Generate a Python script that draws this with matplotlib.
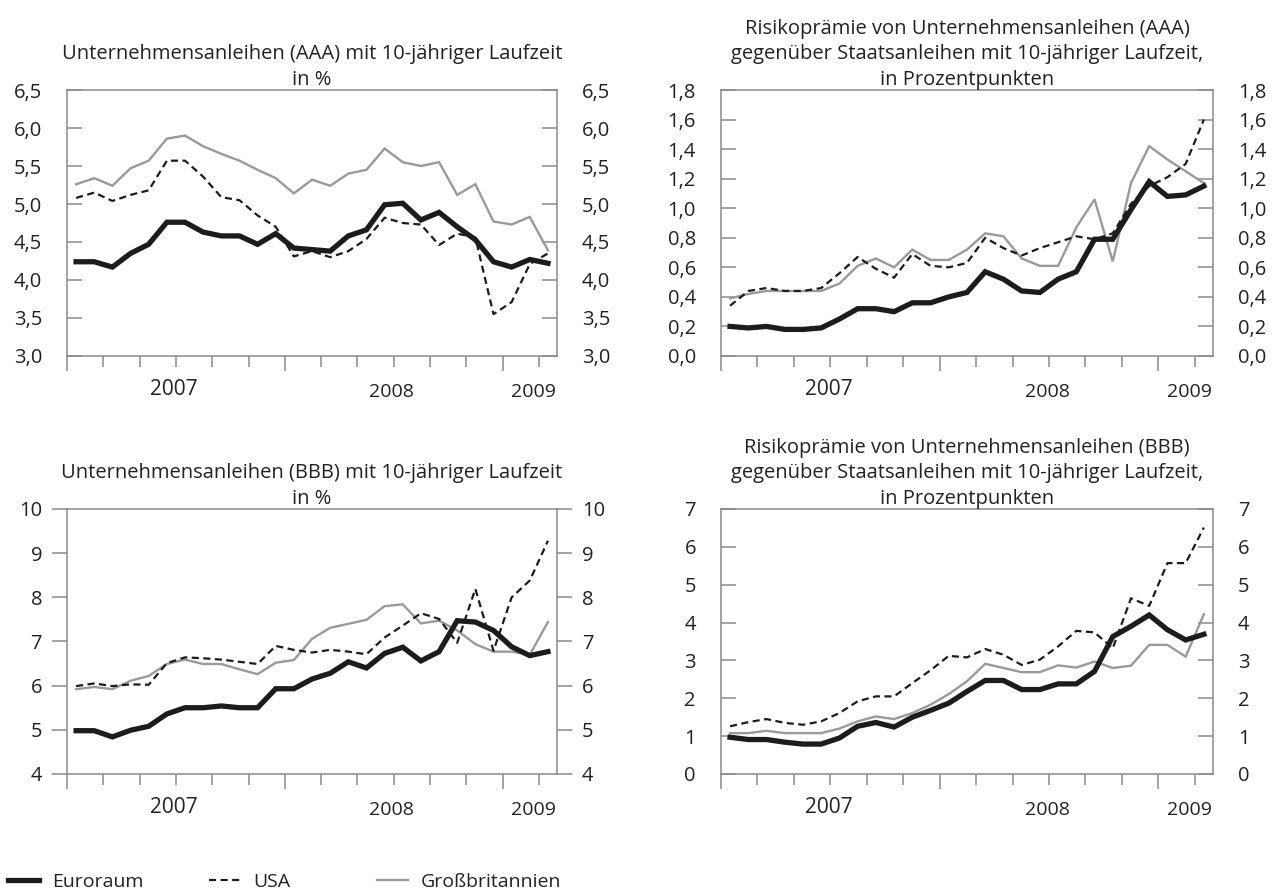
import matplotlib
matplotlib.use("Agg")
import matplotlib.pyplot as plt
from matplotlib.lines import Line2D
from matplotlib.ticker import FixedLocator, FuncFormatter
import numpy as np

plt.rcParams["font.family"] = ["Open Sans", "DejaVu Sans"]

# Monatswerte, 27 Punkte je Reihe
monate = np.arange(27)

# Unternehmensanleihen (AAA), Rendite in %
aaa_euro = [4.24, 4.24, 4.17, 4.35, 4.47, 4.76, 4.76, 4.63, 4.58, 4.58, 4.47, 4.61, 4.42, 4.40,
            4.38, 4.58, 4.66, 4.99, 5.01, 4.79, 4.89, 4.70, 4.53, 4.24, 4.17, 4.27, 4.22]
aaa_usa = [5.08, 5.15, 5.04, 5.12, 5.18, 5.57, 5.57, 5.36, 5.09, 5.05, 4.85, 4.70, 4.31, 4.38,
           4.30, 4.38, 4.54, 4.82, 4.75, 4.73, 4.46, 4.61, 4.56, 3.55, 3.71, 4.21, 4.35]
aaa_uk = [5.26, 5.34, 5.24, 5.47, 5.57, 5.86, 5.90, 5.76, 5.66, 5.57, 5.45, 5.34, 5.14, 5.32,
          5.24, 5.40, 5.45, 5.73, 5.55, 5.50, 5.55, 5.12, 5.26, 4.77, 4.73, 4.83, 4.39]

# Risikoprämie AAA, Prozentpunkte
aaa_praemie_euro = [0.20, 0.19, 0.20, 0.18, 0.18, 0.19, 0.25, 0.32, 0.32, 0.30, 0.36, 0.36, 0.40, 0.43,
                    0.57, 0.52, 0.44, 0.43, 0.52, 0.57, 0.79, 0.79, 0.99, 1.18, 1.08, 1.09, 1.15]
aaa_praemie_usa = [0.34, 0.44, 0.46, 0.44, 0.44, 0.46, 0.56, 0.67, 0.59, 0.53, 0.69, 0.61, 0.60, 0.63,
                   0.80, 0.73, 0.68, 0.73, 0.77, 0.81, 0.79, 0.83, 1.03, 1.15, 1.21, 1.30, 1.60]
aaa_praemie_uk = [0.39, 0.42, 0.44, 0.44, 0.44, 0.44, 0.49, 0.61, 0.66, 0.60, 0.72, 0.65, 0.65, 0.72,
                  0.83, 0.81, 0.66, 0.61, 0.61, 0.87, 1.06, 0.64, 1.17, 1.42, 1.33, 1.25, 1.17]

# Unternehmensanleihen (BBB), Rendite in %
bbb_euro = [4.98, 4.98, 4.84, 4.99, 5.08, 5.36, 5.50, 5.50, 5.54, 5.50, 5.50, 5.93, 5.93, 6.15,
            6.28, 6.54, 6.40, 6.73, 6.87, 6.56, 6.77, 7.47, 7.44, 7.25, 6.88, 6.68, 6.77]
bbb_usa = [5.99, 6.05, 5.99, 6.03, 6.02, 6.51, 6.64, 6.62, 6.59, 6.54, 6.49, 6.90, 6.81, 6.75,
           6.81, 6.77, 6.71, 7.09, 7.36, 7.64, 7.51, 6.97, 8.19, 6.79, 8.00, 8.38, 9.28]
bbb_uk = [5.92, 5.97, 5.92, 6.11, 6.22, 6.49, 6.59, 6.49, 6.49, 6.37, 6.26, 6.52, 6.58, 7.06,
          7.31, 7.40, 7.49, 7.80, 7.84, 7.41, 7.47, 7.25, 6.94, 6.77, 6.77, 6.70, 7.44]

# Risikoprämie BBB, Prozentpunkte
bbb_praemie_euro = [0.97, 0.91, 0.91, 0.84, 0.79, 0.79, 0.95, 1.26, 1.36, 1.24, 1.50, 1.68, 1.87, 2.18,
                    2.47, 2.47, 2.23, 2.23, 2.38, 2.38, 2.71, 3.63, 3.90, 4.20, 3.81, 3.54, 3.69]
bbb_praemie_usa = [1.26, 1.37, 1.45, 1.35, 1.30, 1.39, 1.61, 1.92, 2.05, 2.05, 2.40, 2.74, 3.12, 3.08,
                   3.30, 3.15, 2.88, 3.02, 3.37, 3.78, 3.74, 3.32, 4.64, 4.44, 5.57, 5.57, 6.51]
bbb_praemie_uk = [1.08, 1.08, 1.14, 1.08, 1.08, 1.08, 1.20, 1.39, 1.52, 1.45, 1.61, 1.83, 2.11, 2.45,
                  2.91, 2.80, 2.69, 2.69, 2.87, 2.81, 2.97, 2.80, 2.86, 3.41, 3.41, 3.10, 4.22]

laender = ["Euroraum", "USA", "Großbritannien"]
jahre = ["2007", "2008", "2009"]
jahr_pos = [5.4, 17.4, 25.2]

SCHWARZ = "#1c1c1c"
GRAU = "#9a9a9a"
RAHMEN = "#8a8a8a"
TEXT = "#222222"
FS_TICK = 14.5
FS_TITEL = 14.5
FS_LEG = 14

stil = {
    "Euroraum": dict(color=SCHWARZ, lw=3.8, ls="-", solid_joinstyle="miter"),
    "USA": dict(color=SCHWARZ, lw=1.6, ls=(0, (3.2, 2.0))),
    "Großbritannien": dict(color=GRAU, lw=1.7, ls="-", solid_joinstyle="miter"),
}


def komma(nachkomma):
    def f(y, _pos=None):
        return f"{y:.{nachkomma}f}".replace(".", ",")
    return FuncFormatter(f)


def zeichne_panel(ax, titel, reihen, yticks, nachkomma, richtung):
    # grau unten, dann USA, Euroraum oben
    for name in ["Großbritannien", "USA", "Euroraum"]:
        ax.plot(monate, reihen[name], **stil[name], zorder=3 if name == "Euroraum" else 2)

    ax.set_xlim(-0.5, 26.5)
    ax.set_ylim(yticks[0], yticks[-1])
    ax.yaxis.set_major_locator(FixedLocator(yticks))
    ax.yaxis.set_major_formatter(komma(nachkomma))

    for sp in ax.spines.values():
        sp.set_color(RAHMEN)
        sp.set_linewidth(1.1)

    ax.tick_params(axis="y", direction=richtung, length=11, width=1.1, color=RAHMEN,
                   left=True, right=True, labelleft=True, labelright=True,
                   labelsize=FS_TICK, pad=18 if richtung == "in" else 7,
                   labelcolor=TEXT)

    # Halbjahresmarken lang, übrige Marken kurz
    alle = [-0.5 + 2 * k for k in range(14)]
    lang = [alle[0], alle[6], alle[12]]
    kurz = [t for t in alle if t not in lang]
    ax.xaxis.set_major_locator(FixedLocator(lang))
    ax.xaxis.set_minor_locator(FixedLocator(kurz))
    ax.tick_params(axis="x", which="major", direction="out", length=11, width=1.1,
                   color=RAHMEN, labelbottom=False)
    ax.tick_params(axis="x", which="minor", direction="out", length=8, width=1.1,
                   color=RAHMEN, labelbottom=False)

    for i, (jahr, xpos) in enumerate(zip(jahre, jahr_pos)):
        ax.annotate(jahr, xy=(xpos, 0), xycoords=("data", "axes fraction"),
                    xytext=(0, -24 if i == 0 else -26), textcoords="offset points",
                    ha="center", va="center", fontsize=15 if i == 0 else 14,
                    color=TEXT)

    ax.set_title(titel, fontsize=FS_TITEL, pad=3, linespacing=1.38, color=TEXT)


fig = plt.figure(figsize=(12.72, 8.92), dpi=100)

ax1 = fig.add_axes([0.0527, 0.6009, 0.3852, 0.2982])
ax2 = fig.add_axes([0.5668, 0.6009, 0.3868, 0.2982])
ax3 = fig.add_axes([0.0527, 0.1323, 0.3852, 0.2971])
ax4 = fig.add_axes([0.5668, 0.1323, 0.3868, 0.2971])

zeichne_panel(ax1, "Unternehmensanleihen (AAA) mit 10-jähriger Laufzeit\nin %",
              {"Euroraum": aaa_euro, "USA": aaa_usa, "Großbritannien": aaa_uk},
              [3.0, 3.5, 4.0, 4.5, 5.0, 5.5, 6.0, 6.5], 1, "in")
zeichne_panel(ax2, "Risikoprämie von Unternehmensanleihen (AAA)\n"
                   "gegenüber Staatsanleihen mit 10-jähriger Laufzeit,\nin Prozentpunkten",
              {"Euroraum": aaa_praemie_euro, "USA": aaa_praemie_usa, "Großbritannien": aaa_praemie_uk},
              [0.0, 0.2, 0.4, 0.6, 0.8, 1.0, 1.2, 1.4, 1.6, 1.8], 1, "in")
zeichne_panel(ax3, "Unternehmensanleihen (BBB) mit 10-jähriger Laufzeit\nin %",
              {"Euroraum": bbb_euro, "USA": bbb_usa, "Großbritannien": bbb_uk},
              [4, 5, 6, 7, 8, 9, 10], 0, "out")
zeichne_panel(ax4, "Risikoprämie von Unternehmensanleihen (BBB)\n"
                   "gegenüber Staatsanleihen mit 10-jähriger Laufzeit,\nin Prozentpunkten",
              {"Euroraum": bbb_praemie_euro, "USA": bbb_praemie_usa, "Großbritannien": bbb_praemie_uk},
              [0, 1, 2, 3, 4, 5, 6, 7], 0, "in")

# Legende unten links, drei Einträge nebeneinander
leg_x = [0.006, 0.164, 0.296]
for name, x in zip(laender, leg_x):
    h = Line2D([], [], **stil[name])
    fig.legend(handles=[h], labels=[name], loc="center left", bbox_to_anchor=(x, 0.011),
               frameon=False, borderaxespad=0, borderpad=0, handlelength=1.6,
               handletextpad=0.7, fontsize=FS_LEG, labelcolor=TEXT)

fig.savefig("out.png", dpi=100)
